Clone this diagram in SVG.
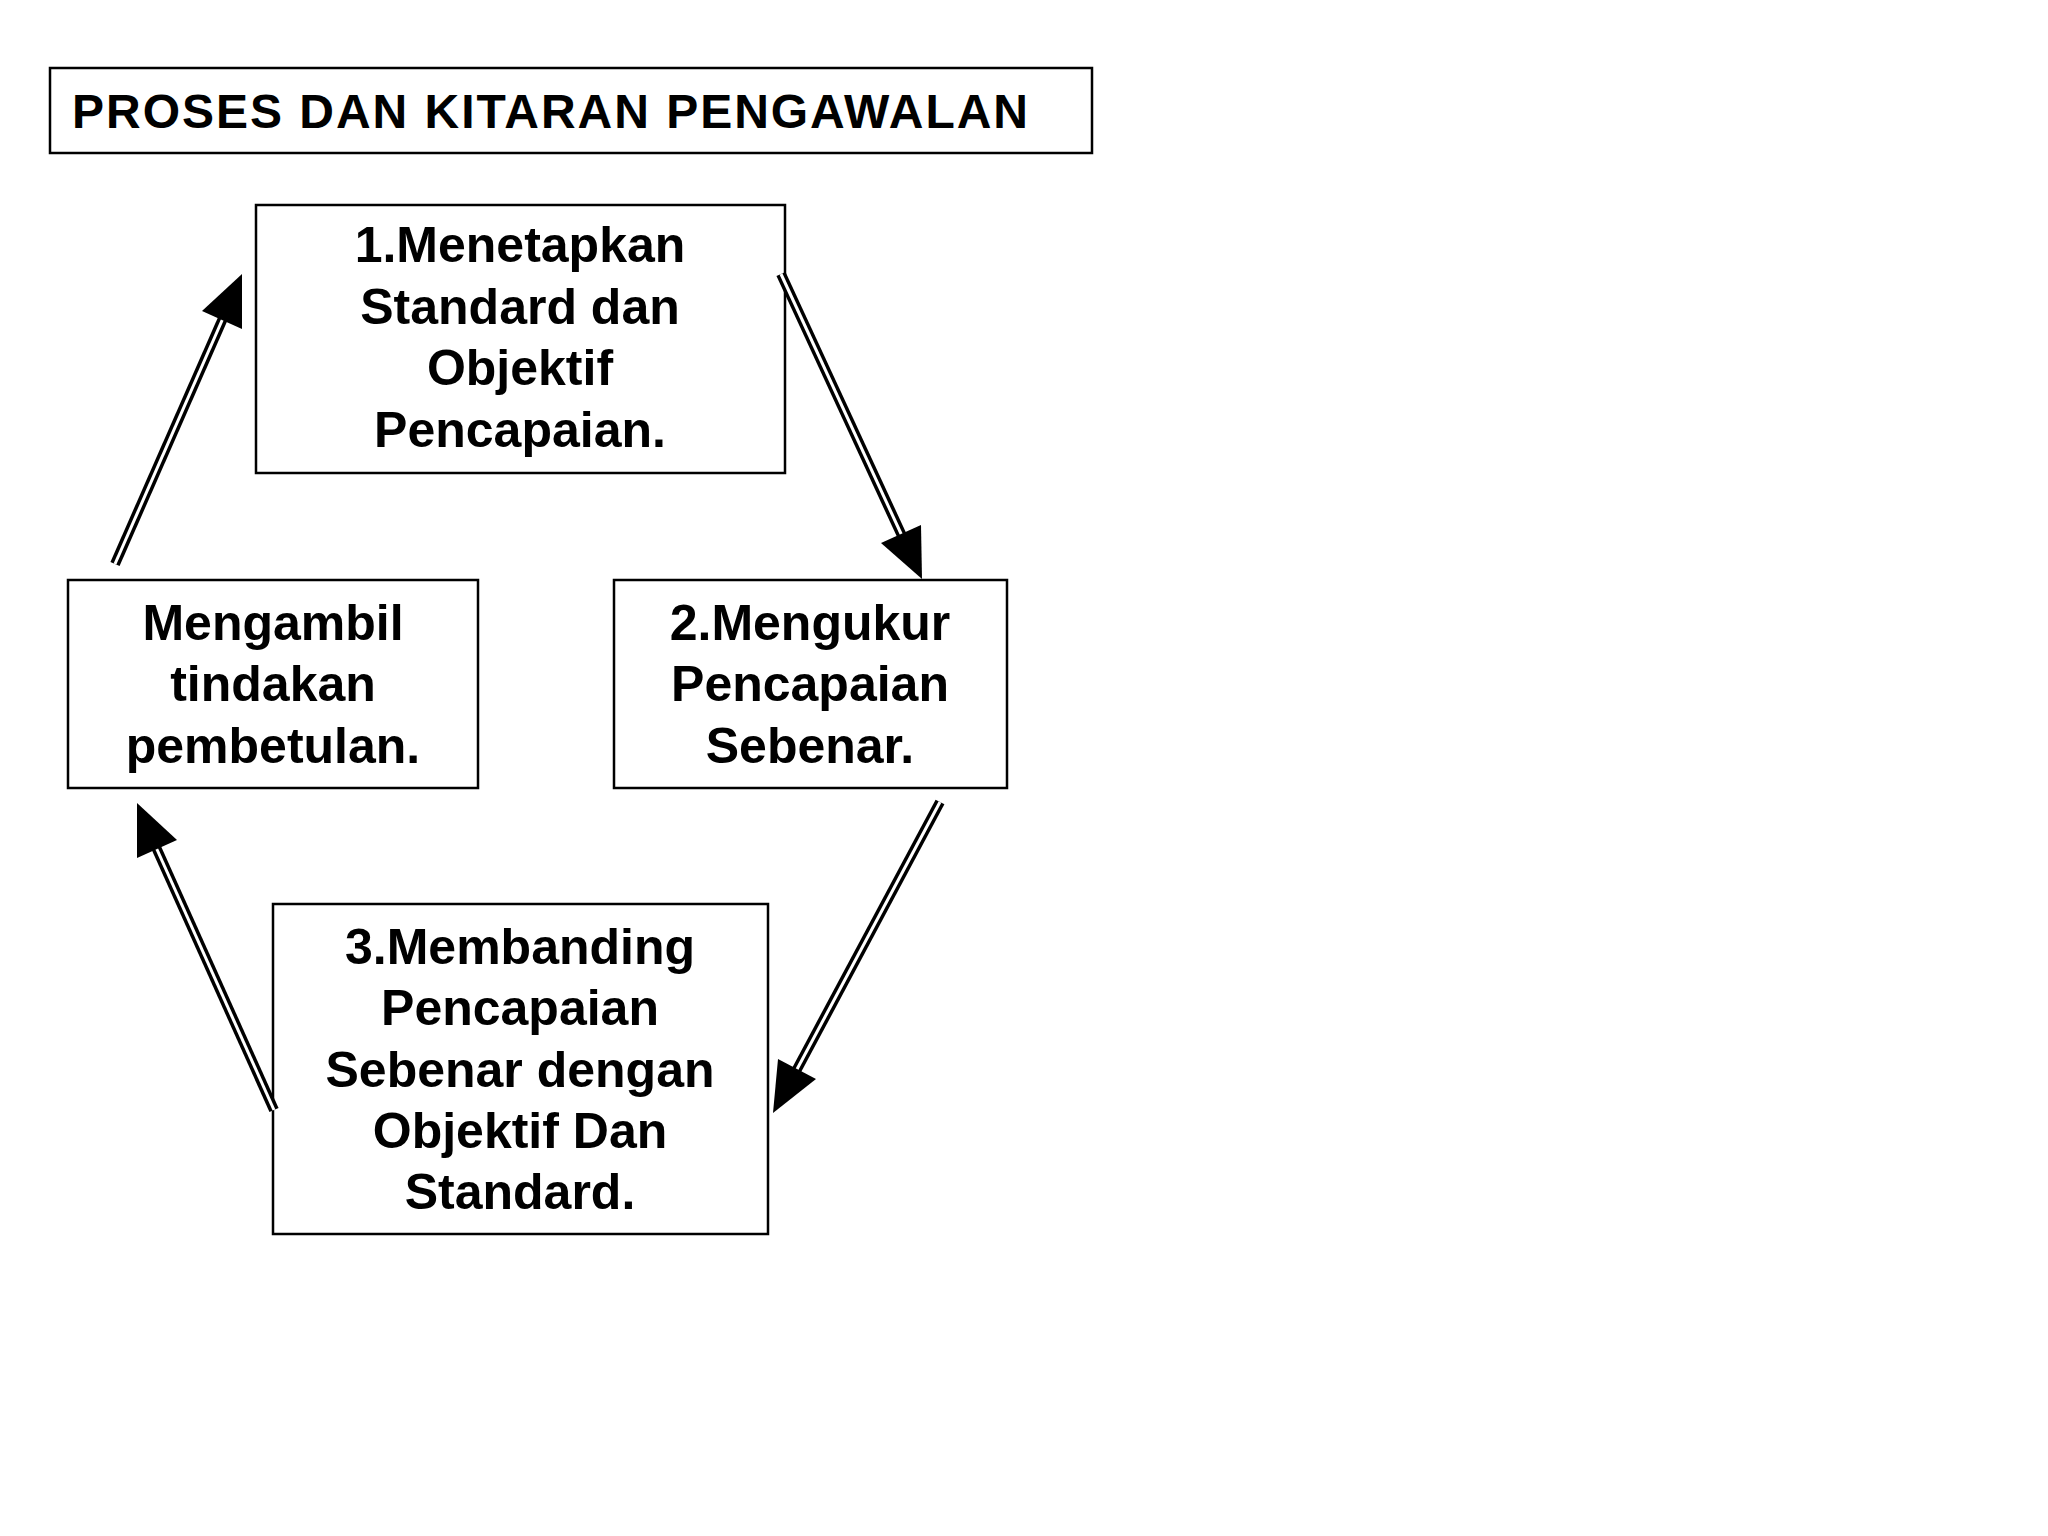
<svg xmlns="http://www.w3.org/2000/svg" width="2048" height="1536" viewBox="0 0 2048 1536">
<style>
rect.b{fill:#fff;stroke:#000;stroke-width:2.5}
text{font-family:"Liberation Sans",Arial,sans-serif;font-weight:bold;font-size:50px;text-anchor:middle;fill:#000}
.o{stroke:#000;stroke-width:10}
.i{stroke:#fff;stroke-width:3}
</style>
<rect width="2048" height="1536" fill="#fff"/>
<g id="title"><rect class="b" x="50" y="68" width="1042" height="85"/><text x="72" y="128" style="text-anchor:start;font-size:48px" textLength="956">PROSES DAN KITARAN PENGAWALAN</text></g>
<g id="n1"><rect class="b" x="256" y="205" width="529" height="268"/><text x="520" y="262">1.Menetapkan</text><text x="520" y="324">Standard dan</text><text x="520" y="385">Objektif</text><text x="520" y="447">Pencapaian.</text></g>
<g id="n2"><rect class="b" x="614" y="580" width="393" height="208"/><text x="810" y="640">2.Mengukur</text><text x="810" y="701">Pencapaian</text><text x="810" y="763">Sebenar.</text></g>
<g id="n3"><rect class="b" x="273" y="904" width="495" height="330"/><text x="520" y="964">3.Membanding</text><text x="520" y="1025">Pencapaian</text><text x="520" y="1087">Sebenar dengan</text><text x="520" y="1148">Objektif Dan</text><text x="520" y="1209">Standard.</text></g>
<g id="n4"><rect class="b" x="68" y="580" width="410" height="208"/><text x="273" y="640">Mengambil</text><text x="273" y="701">tindakan</text><text x="273" y="763">pembetulan.</text></g>
<g id="connectors">
<line class="o" x1="115" y1="564" x2="224" y2="316"/><line class="i" x1="115" y1="564" x2="224" y2="316"/><polygon points="242,274 242,329 202,311"/>
<line class="o" x1="781" y1="274" x2="903" y2="538"/><line class="i" x1="781" y1="274" x2="903" y2="538"/><polygon points="922,579 921,525 881,543"/>
<line class="o" x1="940" y1="802" x2="795" y2="1073"/><line class="i" x1="940" y1="802" x2="795" y2="1073"/><polygon points="773,1113 816,1079 778,1059"/>
<line class="o" x1="274" y1="1110" x2="155" y2="845"/><line class="i" x1="274" y1="1110" x2="155" y2="845"/><polygon points="137,803 177,840 137,858"/>
</g>
</svg>
